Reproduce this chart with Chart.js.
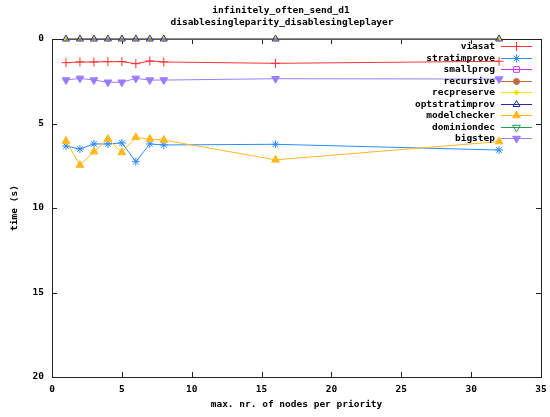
<!DOCTYPE html>
<html>
<head>
<meta charset="utf-8">
<script src="https://cdn.jsdelivr.net/npm/chart.js@4"></script>
<style>
  html, body { margin: 0; padding: 0; background: #fff; }
  #wrap { width: 550px; height: 417px; }
</style>
</head>
<body>
<div id="wrap"><canvas id="myChart" width="550" height="417"></canvas></div>
<script>
const titleLines = ['infinitely_often_send_d1', 'disablesingleparity_disablesingleplayer'];
const nodesPerPriority = [1, 2, 3, 4, 5, 6, 7, 8, 16, 32];
const yTicks = [0, 5, 10, 15, 20];
const xTicks = [0, 5, 10, 15, 20, 25, 30, 35];

const viasat = [1.40, 1.36, 1.36, 1.34, 1.34, 1.46, 1.30, 1.36, 1.44, 1.32];
const stratimprove = [6.33, 6.51, 6.21, 6.21, 6.15, 7.26, 6.21, 6.27, 6.23, 6.57];
const smallprog = [];
const recursive = [];
const recpreserve = [0, 0, 0, 0, 0, 0, 0, 0, 0, 0];
const optstratimprov = [0, 0, 0, 0, 0, 0, 0, 0, 0, 0];
const modelchecker = [6.04, 7.46, 6.67, 5.92, 6.71, 5.82, 5.92, 5.98, 7.15, 6.07];
const dominiondec = [];
const bigstep = [2.43, 2.33, 2.43, 2.56, 2.56, 2.33, 2.43, 2.43, 2.35, 2.37];

const FONT = 'bold 9.5px "DejaVu Sans Mono", "Liberation Mono", monospace';

function pts(values) {
    return values.map((v, i) => ({ x: nodesPerPriority[i], y: v }));
}

function series(label, values, color, style, extra) {
    return Object.assign({
        label: label,
        data: pts(values),
        borderColor: color,
        backgroundColor: color,
        borderWidth: 1,
        pointStyle: style,
        pointRadius: 4,
        pointBorderWidth: 1,
        pointHoverRadius: 4,
        tension: 0,
        clip: false
    }, extra || {});
}

const datasets = [
    series('viasat', viasat, '#ff3030', 'cross', { pointRadius: 4.5 }),
    series('stratimprove', stratimprove, '#2b8cff', 'star', { pointRadius: 4 }),
    series('smallprog', smallprog, '#cc33ee', 'rect', { backgroundColor: 'rgba(0,0,0,0)', pointRadius: 4 }),
    series('recursive', recursive, '#c06a40', 'circle', { pointRadius: 3 }),
    series('recpreserve', recpreserve, '#e8e800', 'circle', { pointRadius: 2 }),
    series('optstratimprov', optstratimprov, '#2a2aa8', 'triangle', { backgroundColor: 'rgba(0,0,0,0)', pointRadius: 4 }),
    series('modelchecker', modelchecker, '#ffb820', 'triangle', { pointRadius: 4.5 }),
    series('dominiondec', dominiondec, '#2a9a55', 'triangle', { backgroundColor: 'rgba(0,0,0,0)', pointRadius: 4.5, pointRotation: 180 }),
    series('bigstep', bigstep, '#9b7cff', 'triangle', { pointRadius: 4.5, pointRotation: 180 })
];
// later series are painted over earlier ones
datasets.forEach((ds, i) => { ds.order = -i; });

// frame with inward ticks on all four sides, like gnuplot
const framePlugin = {
    id: 'frame',
    beforeDatasetsDraw(chart) {
        const { ctx, chartArea: a, scales } = chart;
        ctx.save();
        ctx.strokeStyle = '#222';
        ctx.lineWidth = 1;
        ctx.strokeRect(a.left + 0.5, a.top + 0.5, a.right - a.left, a.bottom - a.top);
        ctx.beginPath();
        xTicks.forEach(t => {
            const x = Math.round(scales.x.getPixelForValue(t)) + 0.5;
            ctx.moveTo(x, a.bottom); ctx.lineTo(x, a.bottom - 5);
            ctx.moveTo(x, a.top); ctx.lineTo(x, a.top + 5);
        });
        yTicks.forEach(t => {
            const y = Math.round(scales.y.getPixelForValue(t)) + 0.5;
            ctx.moveTo(a.left, y); ctx.lineTo(a.left + 5, y);
            ctx.moveTo(a.right, y); ctx.lineTo(a.right - 5, y);
        });
        ctx.stroke();
        ctx.restore();
    },
    afterDraw(chart) {
        const ctx = chart.ctx;
        ctx.save();
        ctx.font = FONT;
        ctx.fillStyle = '#000';
        ctx.textAlign = 'center';
        ctx.textBaseline = 'middle';
        ctx.fillText(titleLines[0], 281, 11);
        ctx.fillText(titleLines[1], 282, 23);
        ctx.restore();
    }
};

// key box inside the plot, top right
const keyPlugin = {
    id: 'key',
    afterDatasetsDraw(chart) {
        const ctx = chart.ctx;
        ctx.save();
        ctx.font = FONT;
        chart.data.datasets.forEach((ds, i) => {
            const y = Math.round(46 + i * 11.5) + 0.5;
            ctx.fillStyle = '#000';
            ctx.textAlign = 'right';
            ctx.textBaseline = 'middle';
            ctx.fillText(ds.label, 495, y);
            ctx.strokeStyle = ds.borderColor;
            ctx.lineWidth = 1;
            ctx.beginPath();
            ctx.moveTo(501, y); ctx.lineTo(532, y);
            ctx.stroke();
            ctx.fillStyle = ds.backgroundColor;
            Chart.helpers.drawPoint(ctx, {
                pointStyle: ds.pointStyle,
                rotation: ds.pointRotation || 0,
                radius: ds.pointRadius,
                borderWidth: 1
            }, 516.5, y);
        });
        ctx.restore();
    }
};

new Chart(document.getElementById('myChart'), {
    type: 'line',
    data: { datasets: datasets },
    options: {
        responsive: false,
        animation: false,
        events: [],
        layout: { padding: { top: 39, right: 9, left: 0, bottom: 0 } },
        plugins: {
            legend: { display: false },
            title: { display: false },
            tooltip: { enabled: false }
        },
        scales: {
            x: {
                type: 'linear',
                min: 0,
                max: 35,
                afterFit(scale) {
                    scale.height = 40;
                    scale.paddingLeft = 0;
                    scale.paddingRight = 0;
                },
                afterBuildTicks(scale) { scale.ticks = xTicks.map(v => ({ value: v })); },
                grid: { display: false, drawTicks: false },
                border: { display: false },
                ticks: { color: '#000', font: { family: '"DejaVu Sans Mono", monospace', size: 9.5, weight: 'bold' }, padding: 7, maxRotation: 0 },
                title: {
                    display: true,
                    text: 'max. nr. of nodes per priority',
                    color: '#000',
                    font: { family: '"DejaVu Sans Mono", monospace', size: 9.5, weight: 'bold' },
                    padding: { top: 0, bottom: 7 }
                }
            },
            y: {
                type: 'linear',
                reverse: true,
                min: 0,
                max: 20,
                afterFit(scale) {
                    scale.width = 52;
                    scale.paddingTop = 0;
                    scale.paddingBottom = 0;
                },
                afterBuildTicks(scale) { scale.ticks = yTicks.map(v => ({ value: v })); },
                grid: { display: false, drawTicks: false },
                border: { display: false },
                ticks: { color: '#000', font: { family: '"DejaVu Sans Mono", monospace', size: 9.5, weight: 'bold' }, padding: 8 },
                title: {
                    display: true,
                    text: 'time (s)',
                    color: '#000',
                    font: { family: '"DejaVu Sans Mono", monospace', size: 9.5, weight: 'bold' },
                    padding: { top: 9, bottom: 0 }
                }
            }
        }
    },
    plugins: [framePlugin, keyPlugin]
});
</script>
</body>
</html>
